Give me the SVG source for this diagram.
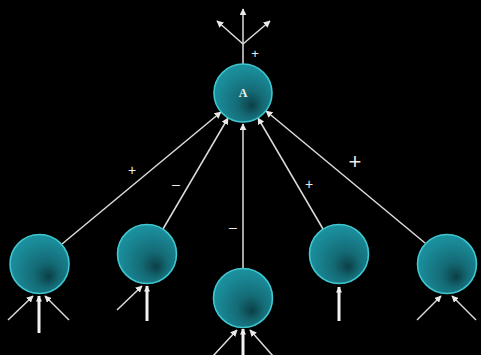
<svg xmlns="http://www.w3.org/2000/svg" width="481" height="355" viewBox="0 0 481 355">
<defs>
<radialGradient id="g" cx="0.55" cy="0.6" r="0.75" fx="0.66" fy="0.72">
<stop offset="0" stop-color="#0c3f46"/>
<stop offset="0.3" stop-color="#146b76"/>
<stop offset="0.7" stop-color="#1a8a97"/>
<stop offset="1" stop-color="#1d98a6"/>
</radialGradient>
<marker id="ah" viewBox="0 0 10 10" refX="9" refY="5" markerWidth="7" markerHeight="7" markerUnits="userSpaceOnUse" orient="auto">
<path d="M0,0 L10,5 L0,10 z" fill="#e8e8e8"/>
</marker>
<marker id="ahb" viewBox="0 0 10 10" refX="9" refY="5" markerWidth="7" markerHeight="6" markerUnits="userSpaceOnUse" orient="auto">
<path d="M0,0 L10,5 L0,10 z" fill="#f0f0f0"/>
</marker>
</defs>
<style>
.n{fill:url(#g);stroke:#3fc6cf;stroke-width:1.6}
.c{stroke:#dcdcdc;stroke-width:1.5;fill:none;marker-end:url(#ah)}
.t{stroke:#f2f2f2;stroke-width:3;fill:none;marker-end:url(#ahb)}
.l{fill:#ececec;font-family:"Liberation Sans",Arial,sans-serif;text-anchor:middle}
</style>
<rect width="481" height="355" fill="#000"/>
<g id="connectors">
<line class="c" x1="62" y1="244" x2="221" y2="112"/>
<line class="c" x1="163" y1="229" x2="228" y2="118"/>
<line class="c" x1="243" y1="269" x2="243" y2="124"/>
<line class="c" x1="323" y1="229" x2="258" y2="118"/>
<line class="c" x1="425" y1="243" x2="266" y2="111"/>
<line x1="243" y1="64" x2="243" y2="44" stroke="#dcdcdc" stroke-width="1.5"/>
<line class="c" x1="243" y1="44" x2="243" y2="9"/>
<line class="c" x1="243" y1="44" x2="217" y2="21"/>
<line class="c" x1="243" y1="44" x2="270" y2="21"/>
<line class="c" x1="8" y1="320" x2="33" y2="296"/>
<line class="t" x1="39" y1="333" x2="39" y2="296"/>
<line class="c" x1="69" y1="320" x2="45" y2="296"/>
<line class="c" x1="117" y1="310" x2="142" y2="286"/>
<line class="t" x1="147" y1="321" x2="147" y2="286"/>
<line class="c" x1="213" y1="356" x2="237" y2="330"/>
<line class="t" x1="243" y1="356" x2="243" y2="329"/>
<line class="c" x1="273" y1="356" x2="250" y2="330"/>
<line class="t" x1="339" y1="321" x2="339" y2="287"/>
<line class="c" x1="417" y1="320" x2="441" y2="296"/>
<line class="c" x1="476" y1="320" x2="452" y2="296"/>
<text class="l" x="132" y="175" font-size="14">+</text>
<text class="l" x="176" y="189" font-size="14">–</text>
<text class="l" x="233" y="232" font-size="14">–</text>
<text class="l" x="309" y="189" font-size="14">+</text>
<text class="l" x="355" y="169" font-size="22">+</text>
<text class="l" x="255" y="58" font-size="13">+</text>
</g>
<g id="A"><circle class="n" cx="243" cy="93" r="29"/><text x="243" y="97" fill="#f2f2f2" font-family="Liberation Serif,serif" font-weight="bold" font-size="12" text-anchor="middle">A</text></g>
<g id="n1"><circle class="n" cx="39.5" cy="264" r="29.5"/></g>
<g id="n2"><circle class="n" cx="147" cy="254" r="29.5"/></g>
<g id="n3"><circle class="n" cx="243" cy="298" r="29.5"/></g>
<g id="n4"><circle class="n" cx="339" cy="254" r="29.5"/></g>
<g id="n5"><circle class="n" cx="447" cy="264" r="29.5"/></g>
</svg>
